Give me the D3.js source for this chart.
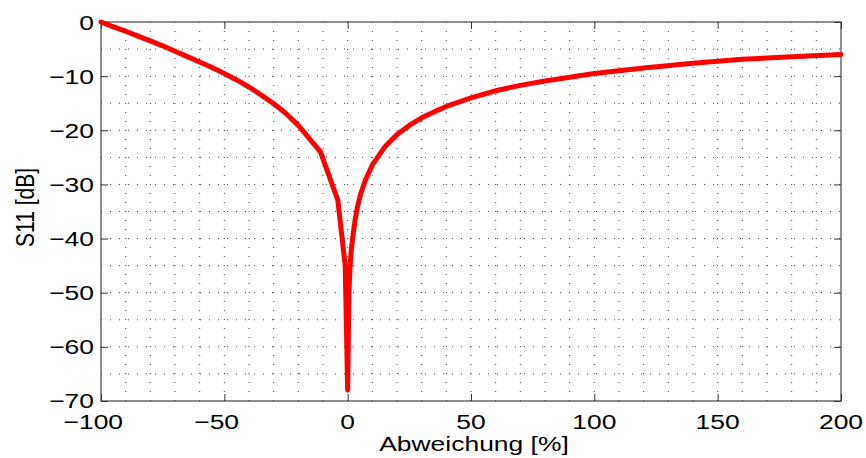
<!DOCTYPE html>
<html>
<head>
<meta charset="utf-8">
<script src="https://cdn.jsdelivr.net/npm/d3@7"></script>
<style>
  html, body { margin: 0; padding: 0; background: #fff; }
  svg { display: block; }
  text { font-family: "Liberation Sans", Arial, Helvetica, sans-serif; fill: #000; }
</style>
</head>
<body>
<svg id="chart" width="866" height="458"></svg>
<script>
// Data
const xValues = [-100, -95, -90, -85, -80, -75, -70, -65, -60, -55, -50, -45, -40, -35, -30, -25, -20, -15, -11, -4, -1, 0,
                 0.5, 1, 1.5, 2, 3, 4, 5, 7, 10, 15, 20, 25, 30, 35, 40, 50, 60, 70, 80, 90, 100, 120, 140, 160, 180, 200];
const s11Values = [0, -0.9, -1.7, -2.6, -3.5, -4.4, -5.4, -6.4, -7.4, -8.4, -9.5, -10.7, -12.0, -13.5, -15.1, -16.9, -19.1, -21.8, -24.0, -32.9, -45, -68,
                   -50, -45, -42, -40, -36.6, -34.1, -32.2, -29.4, -26.4, -23.1, -20.8, -19.1, -17.7, -16.6, -15.6, -14.0, -12.7, -11.7, -10.9, -10.2, -9.5, -8.5, -7.6, -6.9, -6.4, -6.0];
const xTicks = [-100, -50, 0, 50, 100, 150, 200];
const yTicks = [0, -10, -20, -30, -40, -50, -60, -70];
const xMinorGrid = [-90, -80, -70, -60, -50, -40, -30, -20, -10, 0, 10, 20, 30, 40, 50, 60, 70, 80, 90,
                    100, 110, 120, 130, 140, 150, 160, 170, 180, 190];
const yMinorGrid = [-5, -10, -15, -20, -25, -30, -35, -40, -45, -50, -55, -60, -65];
const xLabel = "Abweichung [%]";
const yLabel = "S11 [dB]";

const svg = d3.select("#chart");
const L = 101, R = 841, T = 22, B = 401;
const x = d3.scaleLinear().domain([-100, 200]).range([L, R]);
const y = d3.scaleLinear().domain([-70, 0]).range([B, T]);
const fontSize = 21;
const sx = 1.26; // horizontal stretch of the reference text
const minus = s => String(s).replace("-", "\u2212");

// grid
const g = svg.append("g");
g.selectAll("line.vg").data(xMinorGrid).enter().append("line")
  .attr("x1", d => x(d)).attr("x2", d => x(d)).attr("y1", T).attr("y2", B)
  .attr("stroke", "#444").attr("stroke-width", 1).attr("stroke-dasharray", "1,8");
g.selectAll("line.hg").data(yMinorGrid).enter().append("line")
  .attr("x1", L).attr("x2", R).attr("y1", d => y(d)).attr("y2", d => y(d))
  .attr("stroke", "#444").attr("stroke-width", 1).attr("stroke-dasharray", "1,8");

// box
svg.append("rect").attr("x", L).attr("y", T).attr("width", R - L).attr("height", B - T)
  .attr("fill", "none").attr("stroke", "#444").attr("stroke-width", 1.2);

// axes with inward ticks
const tl = 7;
const styleAxis = a => { a.select(".domain").remove(); a.selectAll("line").attr("stroke", "#333"); };
svg.append("g").attr("transform", `translate(0,${B})`)
  .call(d3.axisBottom(x).tickValues(xTicks).tickSize(-tl).tickFormat("")).call(styleAxis);
svg.append("g").attr("transform", `translate(0,${T})`)
  .call(d3.axisTop(x).tickValues(xTicks).tickSize(-tl).tickFormat("")).call(styleAxis);
svg.append("g").attr("transform", `translate(${L},0)`)
  .call(d3.axisLeft(y).tickValues(yTicks).tickSize(-tl).tickFormat("")).call(styleAxis);
svg.append("g").attr("transform", `translate(${R},0)`)
  .call(d3.axisRight(y).tickValues(yTicks).tickSize(-tl).tickFormat("")).call(styleAxis);

// y tick labels
svg.selectAll("text.yl").data(yTicks).enter().append("text")
  .attr("transform", d => `translate(${L - 7},${y(d) - (d === -70 ? 1 : 0)}) scale(${sx},1)`)
  .attr("dy", "0.36em")
  .attr("text-anchor", "end").attr("font-size", fontSize)
  .text(d => minus(d));

// x tick labels: digits centred on tick, minus hanging left
const meas = svg.append("text").attr("font-size", fontSize).attr("opacity", 0);
svg.selectAll("text.xl").data(xTicks).enter().append("text")
  .attr("transform", d => {
    meas.text(String(Math.abs(d)));
    const w = meas.node().getComputedTextLength() * sx;
    return `translate(${x(d) + w / 2},429) scale(${sx},1)`;
  })
  .attr("text-anchor", "end").attr("font-size", fontSize)
  .text(d => minus(d));
meas.remove();

// axis labels
svg.append("text").attr("transform", `translate(${(L + R) / 2 + 3},451) scale(${sx},1)`)
  .attr("text-anchor", "middle")
  .attr("font-size", fontSize).text(xLabel);
svg.append("text").attr("transform", `translate(34,${(T + B) / 2 - 4}) scale(${sx},1) rotate(-90)`)
  .attr("text-anchor", "middle").attr("font-size", fontSize).text(yLabel);

// data line
const pts = xValues.map((v, i) => [v, s11Values[i]]);
svg.append("path").datum(pts)
  .attr("d", d3.line().x(d => x(d[0])).y(d => y(d[1])))
  .attr("fill", "none").attr("stroke", "#ff0000").attr("stroke-width", 5)
  .attr("stroke-linejoin", "round").attr("stroke-linecap", "round");
</script>
</body>
</html>
